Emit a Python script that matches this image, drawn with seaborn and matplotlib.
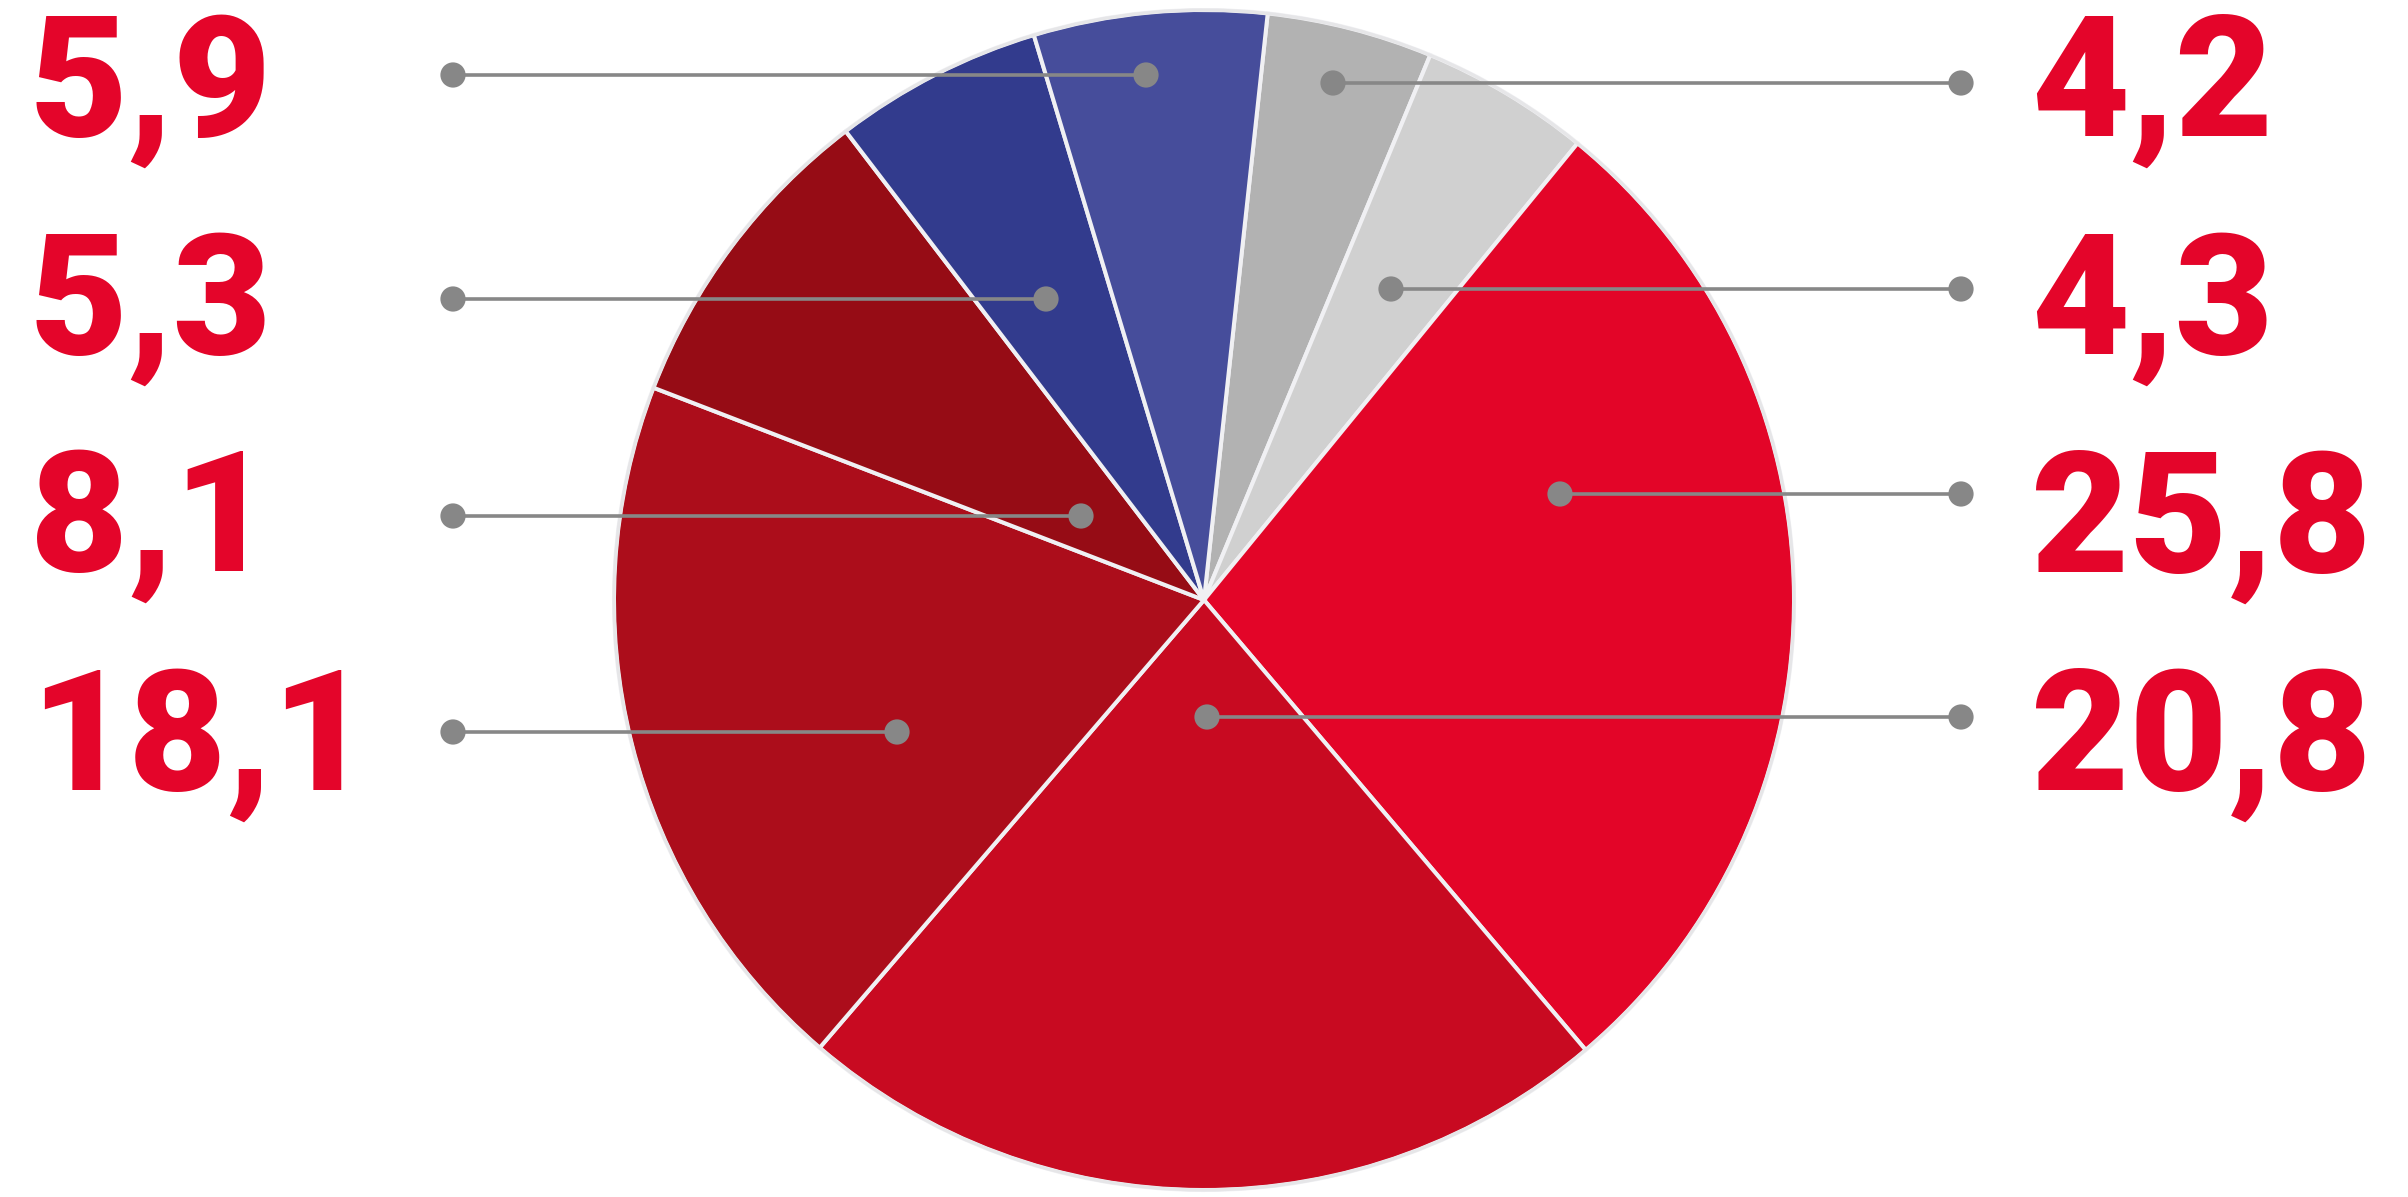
import matplotlib
matplotlib.use("Agg")
import matplotlib.pyplot as plt
import seaborn as sns
import pandas as pd

# ---- data ----
categories = ["A", "B", "C", "D", "E", "F", "G", "H"]
values = [4.2, 4.3, 25.8, 20.8, 18.1, 8.1, 5.3, 5.9]
value_labels = ["4,2", "4,3", "25,8", "20,8", "18,1", "8,1", "5,3", "5,9"]

# ---- styles ----
slice_colors = ["#b2b2b2", "#d0d0d0", "#e30528", "#c80a21",
                "#ac0d1b", "#960c15", "#323b8d", "#464d9b"]
label_color = "#e4052a"
leader_color = "#878787"

# ---- layout (pixel coordinates of the 2408x1197 canvas) ----
W, H = 2408, 1197
pie_center = (1204, 600)
pie_radius = 590
start_from_north = 6.2  # degrees clockwise from 12 o'clock
# side, text baseline, leader y, inner dot x
layout = {
    "4,2":  ("R", 136, 83, 1333),
    "4,3":  ("R", 354, 289, 1391),
    "25,8": ("R", 572, 494, 1560),
    "20,8": ("R", 790, 717, 1207),
    "5,9":  ("L", 136, 75, 1146),
    "5,3":  ("L", 354, 299, 1046),
    "8,1":  ("L", 571, 516, 1081),
    "18,1": ("L", 790, 732, 897),
}
left_text_x, right_text_x = 30, 2031
left_dot_x, right_dot_x = 453, 1961

sns.set_theme(style="white")
plt.rcParams["font.family"] = ["Roboto", "DejaVu Sans"]

fig = plt.figure(figsize=(W / 100, H / 100), dpi=100)
ax = fig.add_axes([0, 0, 1, 1])

# y axis inverted -> counterclock in data = clockwise on screen
ax.pie(values, colors=slice_colors, center=pie_center, radius=pie_radius,
       startangle=-(90 - start_from_north), counterclock=True,
       wedgeprops=dict(edgecolor="#f0f0f3", linewidth=2.9), frame=True)
outline = plt.Circle(pie_center, pie_radius, fill=False, edgecolor="#e6e6e8",
                     linewidth=2.2, zorder=3)
ax.add_patch(outline)

ax.set_xlim(0, W)
ax.set_ylim(H, 0)
ax.set_aspect("equal")
ax.axis("off")

rows = []
for lab in value_labels:
    side, base, ly, ix = layout[lab]
    ox = left_dot_x if side == "L" else right_dot_x
    ax.plot([ox, ix], [ly, ly], color=leader_color, lw=2.6,
            solid_capstyle="butt", zorder=4)
    rows.append({"x": ox, "y": ly})
    rows.append({"x": ix, "y": ly})
    tx = left_text_x if side == "L" else right_text_x
    ax.text(tx, base, lab, ha="left", va="baseline", color=label_color,
            fontsize=122, fontweight="black", zorder=5)

dots = pd.DataFrame(rows)
sns.scatterplot(data=dots, x="x", y="y", ax=ax, s=330, color=leader_color,
                edgecolor="none", zorder=6, legend=False)
ax.set_xlim(0, W)
ax.set_ylim(H, 0)
ax.axis("off")

fig.savefig("out.png", dpi=100)
